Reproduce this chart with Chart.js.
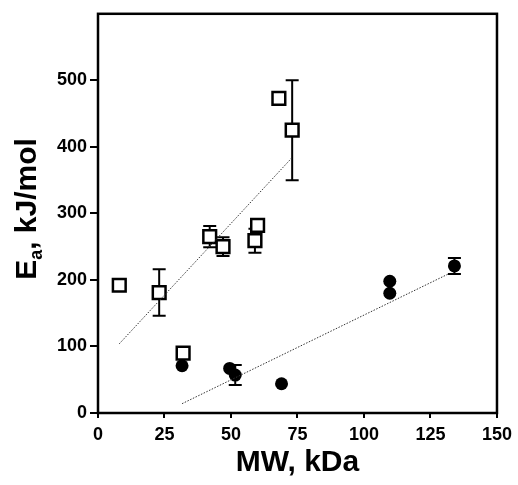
<!DOCTYPE html>
<html>
<head>
<meta charset="utf-8">
<script src="https://cdn.jsdelivr.net/npm/chart.js@4/dist/chart.umd.min.js"></script>
<style>
  html, body { margin: 0; padding: 0; background: #fff; }
  #box { width: 518px; height: 485px; }
</style>
</head>
<body>
<div id="box"><canvas id="grafico"></canvas></div>
<script>
// Open squares
const quadX = [8, 23, 32, 42, 47, 59, 60, 68, 73];
const quadY = [192, 181, 90, 265, 250, 259, 282, 473, 425];
const quadErr = [0, 35, 0, 16, 14, 18, 0, 0, 75];

// Filled circles
const cerchiX = [31.6, 49.5, 51.6, 69, 109.7, 109.7, 134];
const cerchiY = [71, 67, 57, 44, 198, 180, 221];
const cerchiErr = [0, 0, 15, 0, 0, 0, 12];

// Fit lines (end points)
const fitQuadX = [8, 73];
const fitQuadY = [104, 384];
const fitCerchiX = [31.6, 132];
const fitCerchiY = [14, 209.5];

const xTicks = [0, 25, 50, 75, 100, 125, 150];
const yTicks = [0, 100, 200, 300, 400, 500];

const punti = (xs, ys) => xs.map((x, i) => ({ x: x, y: ys[i] }));
const FONT = "Arial, 'Liberation Sans', sans-serif";

// error bars, drawn under the markers
const barreErrore = {
    id: 'barreErrore',
    beforeDatasetsDraw(chart) {
        const ctx = chart.ctx;
        const sx = chart.scales.x, sy = chart.scales.y;
        ctx.save();
        ctx.strokeStyle = '#000';
        ctx.lineWidth = 2;
        chart.data.datasets.forEach(ds => {
            if (!ds.errori) return;
            ds.data.forEach((p, i) => {
                const e = ds.errori[i];
                if (!e) return;
                const px = sx.getPixelForValue(p.x);
                const top = sy.getPixelForValue(p.y + e);
                const bot = sy.getPixelForValue(p.y - e);
                ctx.beginPath();
                ctx.moveTo(px, top); ctx.lineTo(px, bot);
                ctx.moveTo(px - 6.5, top); ctx.lineTo(px + 6.5, top);
                ctx.moveTo(px - 6.5, bot); ctx.lineTo(px + 6.5, bot);
                ctx.stroke();
            });
        });
        ctx.restore();
    }
};

// frame around plot + y title with subscript
const cornice = {
    id: 'cornice',
    afterDraw(chart) {
        const ctx = chart.ctx;
        const a = chart.chartArea;
        ctx.save();
        ctx.strokeStyle = '#000';
        ctx.lineWidth = 2.5;
        ctx.strokeRect(a.left, a.top, a.right - a.left, a.bottom - a.top);

        // titolo asse y
        ctx.translate(28, 209);
        ctx.rotate(-Math.PI / 2);
        ctx.fillStyle = '#000';
        ctx.textBaseline = 'middle';
        const big = 'bold 30px ' + FONT, small = 'bold 18px ' + FONT;
        ctx.font = big;
        const wE = ctx.measureText('E').width;
        const wR = ctx.measureText(', kJ/mol').width;
        ctx.font = small;
        const wA = ctx.measureText('a').width;
        let x = -(wE + wA + wR) / 2;
        ctx.font = big;
        ctx.fillText('E', x, 0);
        x += wE;
        ctx.font = small;
        ctx.fillText('a', x, 9);
        x += wA;
        ctx.font = big;
        ctx.fillText(', kJ/mol', x, 0);
        ctx.restore();
    }
};

new Chart(document.getElementById('grafico').getContext('2d'), {
    type: 'scatter',
    data: {
        datasets: [
            {
                label: 'fit quadrati',
                type: 'line',
                data: punti(fitQuadX, fitQuadY),
                borderColor: '#333',
                borderWidth: 1,
                borderDash: [1.5, 1.5],
                pointRadius: 0,
                fill: false
            },
            {
                label: 'fit cerchi',
                type: 'line',
                data: punti(fitCerchiX, fitCerchiY),
                borderColor: '#333',
                borderWidth: 1,
                borderDash: [1.5, 1.5],
                pointRadius: 0,
                fill: false
            },
            {
                label: 'quadrati',
                data: punti(quadX, quadY),
                errori: quadErr,
                pointStyle: 'rect',
                pointRadius: 9,
                backgroundColor: '#fff',
                borderColor: '#000',
                borderWidth: 2.5
            },
            {
                label: 'cerchi',
                data: punti(cerchiX, cerchiY),
                errori: cerchiErr,
                pointStyle: 'circle',
                pointRadius: 6.5,
                backgroundColor: '#000',
                borderColor: '#000',
                borderWidth: 0
            }
        ]
    },
    options: {
        responsive: true,
        maintainAspectRatio: false,
        animation: false,
        layout: { padding: { top: 13, right: 20, left: 0, bottom: 0 } },
        plugins: {
            legend: { display: false },
            tooltip: { enabled: false }
        },
        scales: {
            x: {
                type: 'linear',
                min: 0,
                max: 150,
                afterBuildTicks: s => { s.ticks = xTicks.map(v => ({ value: v })); },
                afterFit: s => { s.height = 72; },
                grid: { drawOnChartArea: false, drawTicks: true, tickLength: 5, color: '#000', lineWidth: 2 },
                border: { display: false },
                ticks: { color: '#000', padding: 6, font: { family: FONT, size: 18, weight: 'bold' } },
                title: {
                    display: true,
                    text: 'MW, kDa',
                    color: '#000',
                    padding: { top: 8 },
                    font: { family: FONT, size: 30, weight: 'bold' }
                }
            },
            y: {
                type: 'linear',
                min: 0,
                max: 600,
                afterBuildTicks: s => { s.ticks = yTicks.map(v => ({ value: v })); },
                afterFit: s => { s.width = 98; },
                grid: { drawOnChartArea: false, drawTicks: true, tickLength: 8, color: '#000', lineWidth: 2 },
                border: { display: false },
                ticks: { color: '#000', padding: 3, font: { family: FONT, size: 18, weight: 'bold' } }
            }
        }
    },
    plugins: [barreErrore, cornice]
});
</script>
</body>
</html>
